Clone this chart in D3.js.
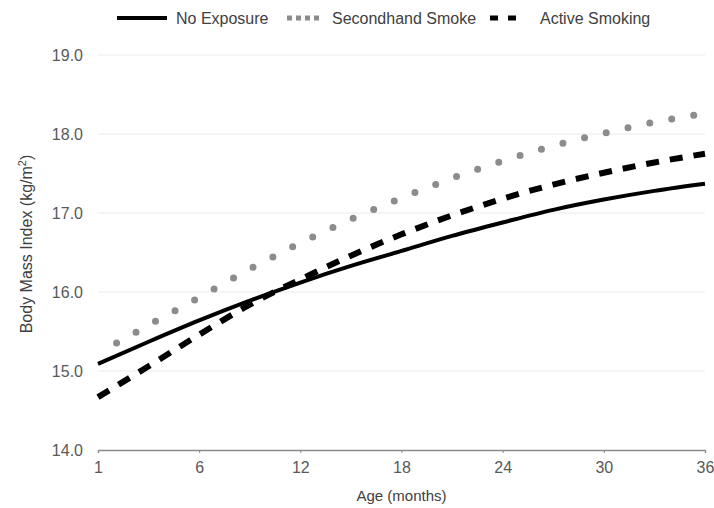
<!DOCTYPE html>
<html>
<head>
<meta charset="utf-8">
<script src="https://cdn.jsdelivr.net/npm/d3@7"></script>
<style>
  body { margin: 0; background: #fff; }
  text { font-family: "Liberation Sans", Arial, sans-serif; }
</style>
</head>
<body>
<div id="chart"></div>
<script>
// axis position 0 is labelled "1" (ticks are evenly spaced in the original)
var agePos = [0, 3, 6, 9, 12, 15, 18, 21, 24, 27, 30, 33, 36];
var tickPos = [0, 6, 12, 18, 24, 30, 36];
var tickLabels = ["1", "6", "12", "18", "24", "30", "36"];
var yTicks = [14, 15, 16, 17, 18, 19];

var noExposure = [15.09, 15.37, 15.64, 15.89, 16.12, 16.33, 16.52, 16.71, 16.88, 17.04, 17.17, 17.28, 17.37];
var secondhand = [15.22, 15.58, 15.93, 16.29, 16.62, 16.92, 17.19, 17.44, 17.66, 17.85, 18.01, 18.15, 18.26];
var activeSmoking = [14.67, 15.06, 15.46, 15.84, 16.16, 16.46, 16.73, 16.97, 17.18, 17.36, 17.51, 17.64, 17.75];

var w = 714, h = 508;
var svg = d3.select("#chart").append("svg").attr("width", w).attr("height", h);

var x = d3.scaleLinear().domain([0, 36]).range([98, 705]);
var y = d3.scaleLinear().domain([14, 19]).range([450, 55]);

// grid
svg.append("g").selectAll("line")
  .data(yTicks.slice(1))
  .enter().append("line")
    .attr("x1", x(0)).attr("x2", x(36))
    .attr("y1", function(d) { return y(d); })
    .attr("y2", function(d) { return y(d); })
    .attr("stroke", "#ebebeb").attr("stroke-width", 1);

// y labels
svg.append("g").selectAll("text")
  .data(yTicks)
  .enter().append("text")
    .attr("x", 83)
    .attr("y", function(d) { return y(d); })
    .attr("dy", "0.35em")
    .attr("text-anchor", "end")
    .attr("font-size", "16px")
    .attr("fill", "#595959")
    .text(function(d) { return d.toFixed(1); });

// x axis
var xAxis = svg.append("g")
  .attr("transform", "translate(0," + y(14) + ")")
  .call(d3.axisBottom(x).tickValues(tickPos).tickSize(3)
    .tickFormat(function(d, i) { return tickLabels[i]; }));
xAxis.select(".domain").attr("stroke", "#8a8a8a").attr("stroke-width", 1.3);
xAxis.selectAll(".tick line").attr("stroke", "#8a8a8a");
xAxis.selectAll(".tick text")
  .attr("font-size", "16px").attr("fill", "#595959")
  .attr("font-family", "Liberation Sans, Arial, sans-serif")
  .attr("y", 12);

var line = d3.line()
  .x(function(d, i) { return x(agePos[i]); })
  .y(function(d) { return y(d); })
  .curve(d3.curveMonotoneX);

svg.append("path").datum(noExposure)
  .attr("d", line).attr("fill", "none")
  .attr("stroke", "#000").attr("stroke-width", 4);

svg.append("path").datum(activeSmoking)
  .attr("d", line).attr("fill", "none")
  .attr("stroke", "#000").attr("stroke-width", 6)
  .attr("stroke-dasharray", "13 11");

svg.append("path").datum(secondhand)
  .attr("d", line).attr("fill", "none")
  .attr("stroke", "#8c8c8c").attr("stroke-width", 7)
  .attr("stroke-linecap", "round")
  .attr("stroke-dasharray", "0 22.3")
  .attr("stroke-dashoffset", 1);

// legend
var legend = [
  { name: "No Exposure", x1: 117, x2: 167, tx: 176, color: "#000", width: 4, dash: null },
  { name: "Secondhand Smoke", x1: 287, x2: 321, tx: 332, color: "#8c8c8c", width: 5, dash: "5 4" },
  { name: "Active Smoking", x1: 490, x2: 516, tx: 540, color: "#000", width: 5, dash: "8 10" }
];
var lg = svg.append("g").selectAll("g").data(legend).enter().append("g");
lg.append("line")
  .attr("x1", function(d) { return d.x1; })
  .attr("x2", function(d) { return d.x2; })
  .attr("y1", 18).attr("y2", 18)
  .attr("stroke", function(d) { return d.color; })
  .attr("stroke-width", function(d) { return d.width; })
  .attr("stroke-dasharray", function(d) { return d.dash; });
lg.append("text")
  .attr("x", function(d) { return d.tx; })
  .attr("y", 24)
  .attr("font-size", "16px")
  .attr("fill", "#404040")
  .text(function(d) { return d.name; });

// axis titles
svg.append("text")
  .attr("x", x(18)).attr("y", 501)
  .attr("text-anchor", "middle")
  .attr("font-size", "15px").attr("fill", "#404040")
  .text("Age (months)");

var yt = svg.append("text")
  .attr("transform", "translate(32,244) rotate(-90)")
  .attr("text-anchor", "middle")
  .attr("font-size", "16px").attr("fill", "#404040");
yt.append("tspan").text("Body Mass Index (kg/m");
yt.append("tspan").attr("dy", "-6").attr("font-size", "11px").text("2");
yt.append("tspan").attr("dy", "6").text(")");
</script>
</body>
</html>
